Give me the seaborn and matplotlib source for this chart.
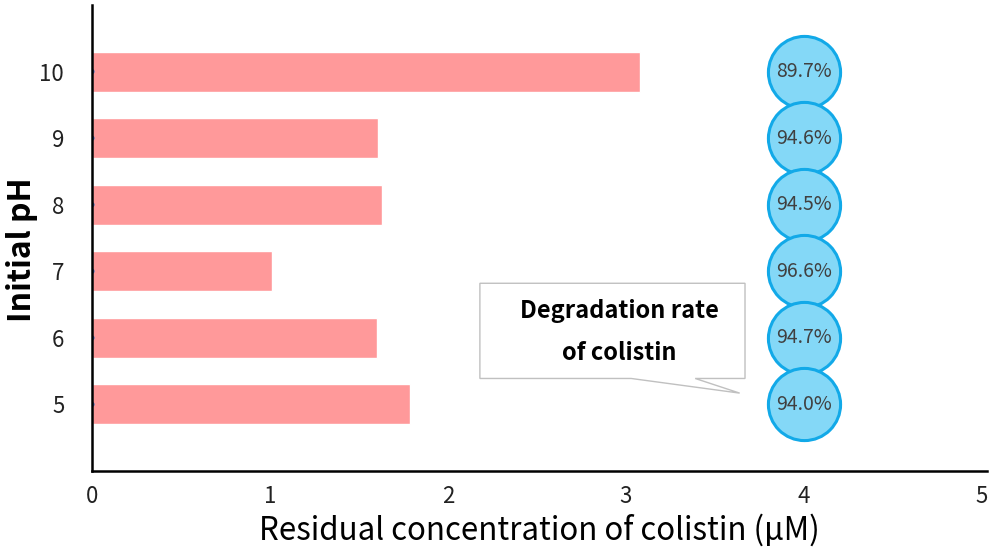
import matplotlib
matplotlib.use("Agg")
import matplotlib.pyplot as plt
import seaborn as sns
import pandas as pd
from matplotlib.patches import Polygon

ph_labels = ["10", "9", "8", "7", "6", "5"]
residual = [3.08, 1.61, 1.63, 1.01, 1.60, 1.79]
degradation = ["89.7%", "94.6%", "94.5%", "96.6%", "94.7%", "94.0%"]
circle_x = [4, 4, 4, 4, 4, 4]
dot_x = [0, 0, 0, 0, 0, 0]
x_ticks = [0, 1, 2, 3, 4, 5]

df = pd.DataFrame({"pH": ph_labels, "residual": residual,
                   "circle": circle_x, "dot": dot_x, "rate": degradation})

sns.set_theme(style="white")
plt.rcParams['font.family'] = ['Noto Sans CJK SC', 'DejaVu Sans']

fig = plt.figure(figsize=(9.92, 5.59), dpi=100)
ax = fig.add_axes([92/992, 1-471/559, 895/992, 466/559])

sns.barplot(data=df, x="residual", y="pH", order=ph_labels, orient="h",
            color="#ff999a", saturation=1, width=0.6, ax=ax)
sns.scatterplot(data=df, x="dot", y="pH", color="#4472c4", s=14,
                edgecolor="none", ax=ax, zorder=5)
sns.scatterplot(data=df, x="circle", y="pH", s=2700, color="#84d8f7",
                edgecolor="#12a9e8", linewidth=2.2, ax=ax, zorder=6, clip_on=False)

for i, r in enumerate(degradation):
    ax.text(circle_x[i], i, r, ha="center", va="center", fontsize=14,
            color="#404040", zorder=7)

# callout box
poly = Polygon([(2.18, 3.18), (3.67, 3.18), (3.67, 4.61), (3.39, 4.61),
                (3.64, 4.83), (3.03, 4.61), (2.18, 4.61)], closed=True,
               facecolor="white", edgecolor="#c0c0c0", linewidth=1.0, zorder=4)
ax.add_patch(poly)
ax.text(2.965, 3.6, "Degradation rate", ha="center", va="center",
        fontsize=17, fontweight="bold", color="black", zorder=5)
ax.text(2.965, 4.23, "of colistin", ha="center", va="center",
        fontsize=17, fontweight="bold", color="black", zorder=5)

ax.set_xlim(0, 5.03)
ax.set_ylim(6, -1)
ax.set_xticks(x_ticks)
ax.set_xticklabels([str(t) for t in x_ticks])
ax.tick_params(axis="x", length=0, labelsize=16, colors="#222222", pad=10)
ax.tick_params(axis="y", length=0, labelsize=16, colors="#222222", pad=20)

ax.set_xlabel("Residual concentration of colistin (μM)", fontsize=22.5,
              color="black", labelpad=4)
ax.set_ylabel("Initial pH", fontsize=23, fontweight="bold", color="black",
              va="center")
ax.yaxis.set_label_coords(-0.078, 0.474)

sns.despine(ax=ax)
ax.spines["left"].set_color("black")
ax.spines["bottom"].set_color("black")
ax.spines["left"].set_linewidth(1.8)
ax.spines["bottom"].set_linewidth(1.8)
ax.spines["left"].set_zorder(10)

fig.savefig("out.png", dpi=100)
